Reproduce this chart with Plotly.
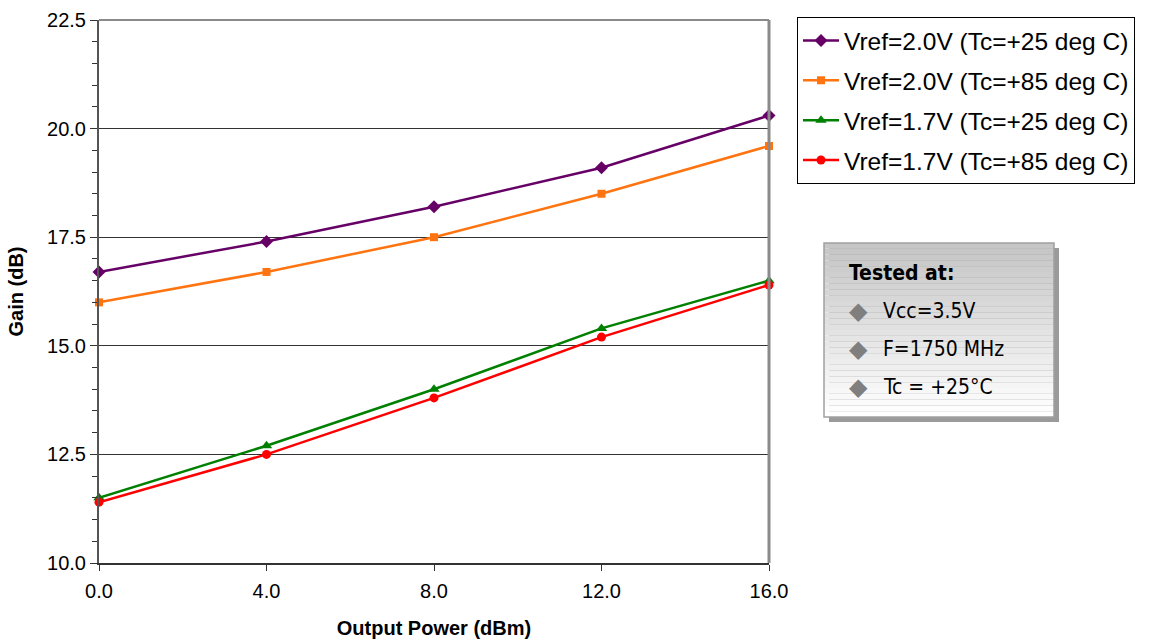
import plotly.graph_objects as go

# ---- data ----
output_power = [0.0, 4.0, 8.0, 12.0, 16.0]
gain_20_25 = [16.7, 17.4, 18.2, 19.1, 20.3]
gain_20_85 = [16.0, 16.7, 17.5, 18.5, 19.6]
gain_17_25 = [11.5, 12.7, 14.0, 15.4, 16.5]
gain_17_85 = [11.4, 12.5, 13.8, 15.2, 16.4]

series_names = [
    "Vref=2.0V (Tc=+25 deg C)",
    "Vref=2.0V (Tc=+85 deg C)",
    "Vref=1.7V (Tc=+25 deg C)",
    "Vref=1.7V (Tc=+85 deg C)",
]
series_values = [gain_20_25, gain_20_85, gain_17_25, gain_17_85]
series_colors = ["#660066", "#FF7410", "#008000", "#FF0000"]
series_symbols = ["diamond", "square", "triangle-up", "circle"]
series_msize = [10, 8, 10, 9]

tested_title = "Tested at:"
tested_items = ["Vcc=3.5V", "F=1750 MHz", "Tc = +25°C"]

x_ticks = [0, 4, 8, 12, 16]
y_ticks = [10.0, 12.5, 15.0, 17.5, 20.0, 22.5]

W, H = 1151, 641
L, R, T, B = 99, 382, 20, 78
PW = W - L - R
PH = H - T - B

def px(xp):
    return (xp - L) / PW

def py(yp):
    return (H - B - yp) / PH

fig = go.Figure()
for i, (name, vals, col, sym, ms) in enumerate(zip(series_names, series_values, series_colors, series_symbols, series_msize)):
    fig.add_trace(go.Scatter(
        x=output_power, y=vals, name=name, mode="lines+markers",
        line=dict(color=col, width=2.5),
        marker=dict(symbol=sym, size=ms, color=col),
        cliponaxis=False, legendgroup=f"g{i}",
    ))

shapes = []
shapes.append(dict(type="line", xref="paper", yref="paper", x0=0, x1=1, y0=1, y1=1,
                   line=dict(color="#8a8a8a", width=2)))
shapes.append(dict(type="line", xref="paper", yref="paper", x0=1, x1=1, y0=0, y1=1,
                   line=dict(color="#8a8a8a", width=3)))

bx0, bx1, by0, by1 = 824, 1054, 243, 417
shapes.append(dict(type="rect", xref="paper", yref="paper",
                   x0=px(bx0 + 5), x1=px(bx1 + 5), y0=py(by1 + 5), y1=py(by0 + 5),
                   fillcolor="#9a9a9a", line=dict(width=0), layer="above"))
nb = 30
for i in range(nb):
    t = i / (nb - 1)
    c = int(198 + (255 - 198) * t)
    ya = by0 + (by1 - by0) * i / nb
    yb = by0 + (by1 - by0) * (i + 1) / nb
    shapes.append(dict(type="rect", xref="paper", yref="paper",
                       x0=px(bx0), x1=px(bx1), y0=py(yb), y1=py(ya),
                       fillcolor=f"rgb({c},{c},{c})", line=dict(width=0), layer="above"))
shapes.append(dict(type="rect", xref="paper", yref="paper",
                   x0=px(bx0), x1=px(bx1), y0=py(by1), y1=py(by0),
                   fillcolor="rgba(0,0,0,0)", line=dict(color="#a0a0a0", width=1.5), layer="above"))

narrow = "DejaVu Sans Condensed, Liberation Sans Narrow, Arial"
annotations = [
    dict(xref="paper", yref="paper", x=px(847), y=py(273), xanchor="left", yanchor="middle",
         text="<b>" + tested_title + "</b>", showarrow=False,
         font=dict(family=narrow, size=21, color="#000000")),
]
for i, item in enumerate(tested_items):
    yc = 311 + i * 38
    annotations.append(dict(xref="paper", yref="paper", x=px(858), y=py(yc), xanchor="center",
                            yanchor="middle", text="◆", showarrow=False,
                            font=dict(family="DejaVu Sans", size=24, color="#7f7f7f")))
    annotations.append(dict(xref="paper", yref="paper", x=px(881), y=py(yc), xanchor="left",
                            yanchor="middle", text=item, showarrow=False,
                            font=dict(family=narrow, size=21, color="#000000")))

fig.update_layout(
    width=W, height=H,
    margin=dict(l=L, r=R, t=T, b=B, autoexpand=False),
    paper_bgcolor="white", plot_bgcolor="white",
    font=dict(family="Liberation Sans, Arial, sans-serif", color="#000000", size=20),
    showlegend=True,
    legend=dict(x=px(797), y=py(17), xanchor="left", yanchor="top",
                bordercolor="#000000", borderwidth=1, bgcolor="white",
                font=dict(size=24.5, family="Liberation Sans, Arial, sans-serif"),
                tracegroupgap=5, itemwidth=36),
    shapes=shapes,
    annotations=annotations,
    xaxis=dict(range=[0, 16], tickvals=x_ticks, ticktext=[f"{v:.1f}" for v in x_ticks],
               showgrid=False, zeroline=False, showline=True, linecolor="#333333", linewidth=2,
               ticks="outside", ticklen=6, tickcolor="#333333", tickwidth=1,
               tickfont=dict(size=20), automargin=False, ticklabelstandoff=3,
               title=dict(text="<b>Output Power (dBm)</b>", font=dict(size=20), standoff=20)),
    yaxis=dict(range=[10, 22.5], tickvals=y_ticks, ticktext=[f"{v:.1f}" for v in y_ticks],
               showgrid=True, gridcolor="#333333", gridwidth=1, zeroline=False,
               showline=True, linecolor="#555555", linewidth=2,
               ticks="outside", ticklen=7, tickcolor="#333333", tickwidth=1,
               tickfont=dict(size=20), automargin=False,
               minor=dict(dtick=0.5, ticks="outside", ticklen=5, tickcolor="#333333", showgrid=False),
               title=dict(text="<b>Gain (dB)</b>", font=dict(size=20), standoff=18)),
)

fig.write_html("out.html")
